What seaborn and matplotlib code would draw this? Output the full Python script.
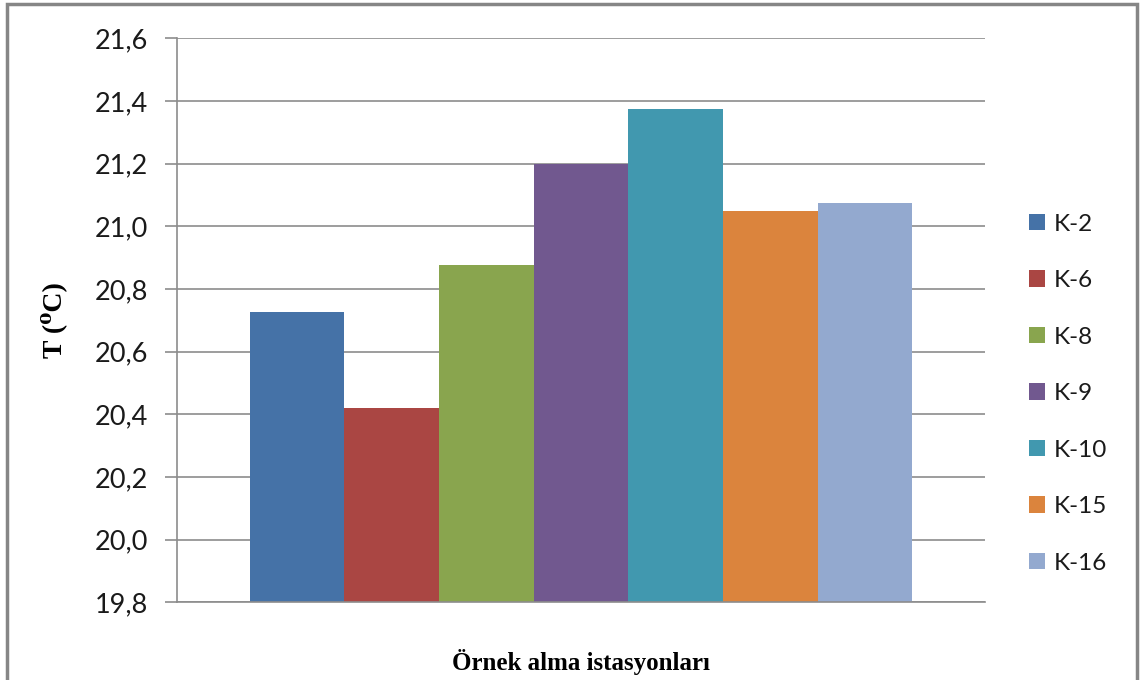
import matplotlib
matplotlib.use("Agg")
import matplotlib.pyplot as plt
import seaborn as sns
import pandas as pd
from matplotlib.patches import Rectangle

# Station temperatures (°C)
stations = ["K-2", "K-6", "K-8", "K-9", "K-10", "K-15", "K-16"]
temps = [20.725, 20.42, 20.875, 21.2, 21.375, 21.05, 21.075]
colors = ["#4572A7", "#AA4643", "#89A54E", "#71588F", "#4198AF", "#DB843D", "#93A9CF"]
yticks = [19.8, 20.0, 20.2, 20.4, 20.6, 20.8, 21.0, 21.2, 21.4, 21.6]

df = pd.DataFrame({"grup": [""] * len(stations), "istasyon": stations, "T": temps})

sns.set_theme(style="white")
plt.rcParams["font.family"] = ["Lato", "DejaVu Sans"]

fig = plt.figure(figsize=(11.46, 6.8), dpi=100)
ax = fig.add_axes([0.1545, 0.1143, 0.705, 0.8294])

sns.barplot(data=df, x="grup", y="T", hue="istasyon", hue_order=stations,
            palette=colors, width=0.82, saturation=1, ax=ax, edgecolor="none",
            legend=True)

ax.set_ylim(19.8, 21.6)
ax.set_xlim(-0.5, 0.5)
ax.set_yticks(yticks)
ax.set_yticklabels([f"{v:.1f}".replace(".", ",") for v in yticks], fontsize=19.5, color="#1a1a1a")
ax.set_xticks([])
ax.yaxis.grid(True, color="#8c8c8c", linewidth=1.2)
ax.set_axisbelow(True)
ax.tick_params(axis="y", which="major", left=True, length=9, width=1.2, color="#8c8c8c", pad=12)
for side in ["top", "right"]:
    ax.spines[side].set_visible(False)
for side in ["left", "bottom"]:
    ax.spines[side].set_color("#8c8c8c")
    ax.spines[side].set_linewidth(1.2)

ax.set_xlabel("Örnek alma istasyonları", family=["Liberation Serif", "DejaVu Serif"],
              fontweight="bold", fontsize=18, color="black", labelpad=34)
ax.set_ylabel("T (⁰C)", family=["Liberation Serif", "DejaVu Serif"],
              fontweight="bold", fontsize=20, color="black", labelpad=20)

leg = ax.legend(loc="center left", bbox_to_anchor=(1.028, 0.37), frameon=False,
                fontsize=17.5, handlelength=0.65, handleheight=0.65, handletextpad=0.35,
                labelspacing=1.46)
for t in leg.get_texts():
    t.set_color("#1a1a1a")

# Outer chart frame
fig.patches.append(Rectangle((7 / 1146, -0.01), (1137 - 7) / 1146, 1 - 4 / 680 + 0.01,
                             transform=fig.transFigure, fill=False,
                             edgecolor="#868686", linewidth=2.5))

fig.savefig("out.png", dpi=100)
